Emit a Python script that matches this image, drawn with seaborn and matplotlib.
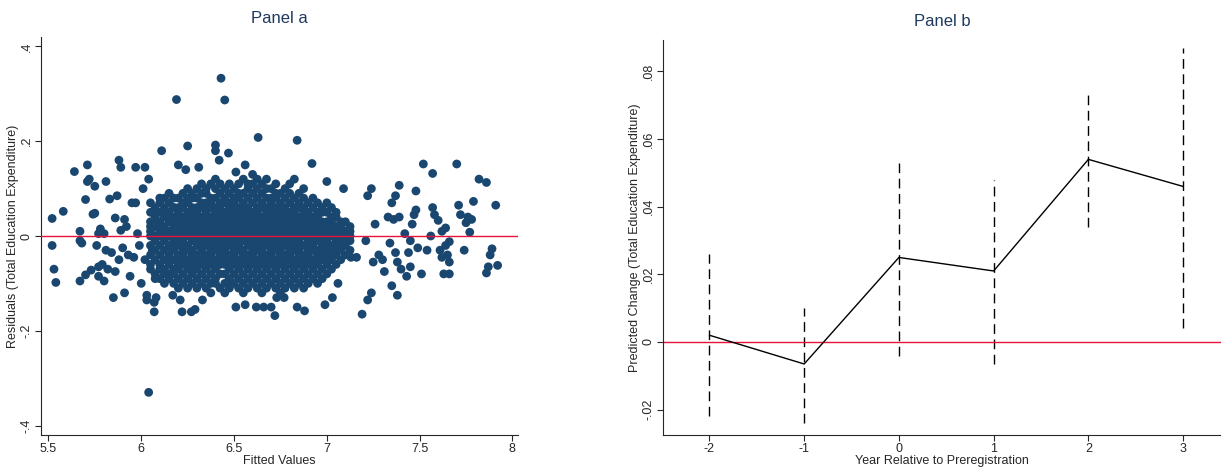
import matplotlib
matplotlib.use("Agg")
import matplotlib.pyplot as plt
import seaborn as sns
import pandas as pd

# ===== PANEL A DATA: residuals vs fitted values =====
# sparse points (fitted, residual)
sparse_x = [5.52, 5.52, 5.53, 5.54, 5.58, 5.64, 5.67, 5.67, 5.67, 5.68, 5.70, 5.70, 5.71, 5.71, 5.72, 5.73,
            5.74, 5.75, 5.75, 5.76, 5.77, 5.77, 5.77, 5.78, 5.79, 5.80, 5.80, 5.81, 5.81, 5.82, 5.83, 5.84,
            5.85, 5.86, 5.86, 5.87, 5.88, 5.88, 5.89, 5.89, 5.90, 5.91, 5.91, 5.92, 5.93, 5.94, 5.95, 5.96,
            5.97, 5.97, 5.98, 5.99, 6.00, 6.01, 6.02, 6.02, 6.03, 6.03, 6.04, 6.04, 6.06, 6.07, 6.07, 6.08,
            6.11, 6.17, 6.19, 6.20, 6.21, 6.22, 6.24, 6.25, 6.27, 6.29, 6.31, 6.33, 6.40, 6.40, 6.42, 6.43,
            6.45, 6.47, 6.49, 6.51, 6.51, 6.56, 6.56, 6.62, 6.63, 6.66, 6.70, 6.72, 6.73, 6.77, 6.84, 6.84,
            6.88, 6.92, 6.99, 7.00, 7.03, 7.06, 7.09, 7.13, 7.16, 7.19, 7.21, 7.22, 7.22, 7.24, 7.24, 7.25,
            7.26, 7.28, 7.30, 7.31, 7.33, 7.34, 7.35, 7.35, 7.36, 7.37, 7.37, 7.38, 7.38, 7.39, 7.39, 7.40,
            7.42, 7.43, 7.44, 7.45, 7.45, 7.46, 7.47, 7.48, 7.48, 7.49, 7.51, 7.52, 7.54, 7.56, 7.57, 7.57,
            7.58, 7.60, 7.61, 7.62, 7.62, 7.63, 7.64, 7.64, 7.65, 7.66, 7.66, 7.66, 7.70, 7.71, 7.72, 7.74,
            7.75, 7.76, 7.77, 7.78, 7.79, 7.82, 7.86, 7.86, 7.87, 7.88, 7.89, 7.91, 7.92]
sparse_y = [0.037, -0.02, -0.07, -0.098, 0.052, 0.136, -0.095, 0.01, -0.01, -0.015, 0.077, -0.082, 0.15, 0.115, 0.12, -0.072,
            0.046, 0.048, 0.105, -0.02, 0.005, -0.065, -0.085, 0.015, -0.06, -0.095, 0.005, 0.115, -0.03, -0.07, 0.078, -0.035,
            -0.13, 0.038, -0.075, 0.085, 0.16, -0.05, 0.012, 0.145, -0.025, 0.035, -0.12, 0.02, -0.04, -0.085, 0.07, -0.045,
            0.145, 0.07, 0.005, -0.02, -0.1, 0.1, 0.145, -0.05, -0.125, -0.135, -0.33, 0.12, -0.03, -0.16, -0.14, -0.13,
            0.18, -0.125, 0.288, 0.15, -0.135, -0.16, 0.14, 0.19, -0.16, -0.155, 0.145, -0.135, 0.192, 0.18, 0.16, 0.333,
            0.287, 0.175, -0.1, -0.15, 0.135, -0.145, 0.15, -0.15, 0.208, -0.15, -0.15, -0.168, -0.13, -0.13, 0.202, -0.15,
            -0.158, 0.153, -0.145, 0.115, -0.13, -0.1, 0.1, -0.045, -0.045, -0.165, -0.01, 0.085, -0.135, 0.1, -0.12, -0.055,
            0.025, -0.04, -0.05, -0.075, 0.04, -0.015, 0.07, -0.105, 0.035, 0.085, -0.035, -0.055, -0.125, 0.107, 0.04, -0.07,
            0.005, -0.085, -0.035, -0.01, -0.065, 0.025, 0.045, 0.095, 0.055, -0.025, -0.08, 0.152, -0.03, 0.0, 0.132, 0.06,
            0.045, 0.033, -0.03, 0.01, -0.045, -0.08, 0.017, -0.02, -0.04, -0.012, -0.055, -0.08, 0.152, 0.065, 0.045, -0.03,
            0.028, 0.04, 0.008, 0.035, 0.073, 0.12, 0.113, -0.078, -0.065, -0.04, -0.027, 0.065, -0.062]

# dense core, by column: fitted value -> residuals (in hundredths)
core_cols = [
    (6.050, [-7, -4, -2, 1, 3, 5, 7, -6, 0, 2]),
    (6.075, [-8, -5, -3, -1, 2, 4, 6, -9, 0, 3, 5]),
    (6.100, [-9, -6, -4, -2, 0, 1, 3, 5, 7, -7, 8, 2]),
    (6.125, [-10, -7, -5, -3, -1, 1, 2, 4, 6, 8, -8, 0, 5]),
    (6.150, [-9, -8, -6, -4, -2, 0, 1, 3, 5, 7, 9, -3, 4, -5]),
    (6.175, [-10, -7, -5, -3, -1, 0, 2, 4, 6, 8, -8, 3, -2, 6, 1]),
    (6.200, [-11, -9, -7, -5, -4, -2, 0, 1, 3, 5, 6, 8, -6, 2, -1, 4]),
    (6.225, [-10, -8, -6, -4, -3, -1, 1, 2, 4, 6, 7, 9, -5, 0, 3, -2]),
    (6.250, [-11, -9, -7, -5, -3, -2, 0, 1, 3, 5, 7, 8, 10, -6, 2, 4]),
    (6.275, [-10, -8, -6, -5, -3, -1, 0, 2, 4, 6, 8, 9, -4, 1, 3, -7, 5]),
    (6.300, [-11, -9, -7, -5, -4, -2, 0, 1, 3, 5, 6, 8, 10, -6, 2, -1, 4]),
    (6.325, [-10, -8, -6, -4, -3, -1, 1, 2, 4, 6, 7, 9, 11, -5, 0, 3, -2]),
    (6.350, [-11, -9, -7, -6, -4, -2, -1, 0, 2, 3, 5, 7, 9, 10, -5, 1, 4, 6]),
    (6.375, [-12, -10, -8, -6, -4, -3, -1, 1, 2, 4, 6, 7, 8, 11, -5, 0, 3, -2]),
    (6.400, [-10, -9, -7, -5, -3, -2, 0, 1, 3, 5, 6, 8, 10, 12, -6, 2, 4, -1]),
    (6.425, [-11, -8, -6, -4, -3, -1, 0, 2, 4, 5, 7, 9, 11, -5, 1, 3, -2, 6]),
    (6.450, [-12, -10, -8, -6, -5, -3, -1, 0, 2, 3, 5, 7, 8, 10, -4, 1, 4, -2]),
    (6.475, [-11, -9, -7, -5, -4, -2, -1, 1, 2, 4, 6, 7, 9, 11, -6, 0, 3, 5]),
    (6.500, [-10, -8, -6, -4, -3, -1, 0, 2, 3, 5, 6, 8, 10, -5, 1, 4, -2, 7]),
    (6.525, [-11, -9, -7, -5, -3, -2, 0, 1, 3, 4, 6, 8, 9, 11, -6, 2, -1, 5]),
    (6.550, [-12, -10, -8, -6, -4, -3, -1, 1, 2, 4, 5, 7, 9, 12, -5, 0, 3, 6]),
    (6.575, [-11, -9, -7, -5, -4, -2, 0, 1, 3, 5, 6, 8, 10, 11, -6, 2, -1, 4]),
    (6.600, [-10, -8, -6, -4, -3, -1, 0, 2, 4, 5, 7, 9, 11, 13, -5, 1, 3, -2]),
    (6.625, [-11, -9, -7, -5, -3, -2, 0, 1, 3, 4, 6, 8, 10, 12, -6, 2, -1, 5]),
    (6.650, [-12, -10, -8, -6, -4, -3, -1, 1, 2, 4, 6, 7, 9, 11, -5, 0, 3, -2]),
    (6.675, [-11, -9, -7, -5, -4, -2, 0, 1, 3, 5, 6, 8, 10, 12, -6, 2, 4, -1]),
    (6.700, [-10, -8, -6, -4, -3, -1, 0, 2, 3, 5, 7, 8, 10, -5, 1, 4, -2, 6]),
    (6.725, [-11, -9, -7, -5, -3, -2, 0, 1, 3, 4, 6, 8, 9, 11, -6, 2, -1, 5]),
    (6.750, [-12, -10, -8, -6, -4, -3, -1, 1, 2, 4, 5, 7, 9, -5, 0, 3, 6, -2]),
    (6.775, [-11, -9, -7, -5, -4, -2, 0, 1, 3, 5, 6, 8, 10, -6, 2, -1, 4]),
    (6.800, [-10, -8, -6, -4, -3, -1, 0, 2, 3, 5, 7, 9, 11, -5, 1, 4, -2]),
    (6.825, [-11, -9, -7, -5, -3, -2, 0, 1, 3, 4, 6, 8, 12, -6, 2, -1, 5]),
    (6.850, [-10, -8, -6, -4, -3, -1, 1, 2, 4, 6, 7, 9, -5, 0, 3, -2]),
    (6.875, [-11, -9, -7, -5, -4, -2, 0, 1, 3, 5, 6, 8, 10, -6, 2, 4]),
    (6.900, [-10, -8, -6, -4, -3, -1, 0, 2, 3, 5, 7, -5, 1, 4, -2]),
    (6.925, [-9, -7, -5, -3, -2, 0, 1, 3, 4, 6, 8, -6, 2, -1]),
    (6.950, [-10, -8, -6, -4, -3, -1, 1, 2, 4, 5, 7, -5, 0, 3]),
    (6.975, [-9, -7, -5, -3, -2, 0, 1, 3, 5, 6, -4, 2, -1]),
    (7.000, [-8, -6, -4, -3, -1, 0, 2, 3, 5, 7, -5, 1, -2]),
    (7.025, [-7, -5, -3, -2, 0, 1, 3, 4, 6, -4, 2]),
    (7.050, [-6, -4, -2, -1, 1, 2, 4, 5, -3, 0]),
    (7.075, [-5, -3, -1, 0, 1, 3, -2, 2]),
    (7.100, [-4, -2, 0, 1, 3, -1]),
    (7.125, [-3, -1, 1, 2, 0]),
]

# ===== PANEL B DATA: event-study estimates =====
years = [-2, -1, 0, 1, 2, 3]
est = [0.002, -0.0065, 0.025, 0.021, 0.054, 0.046]
ci_lo = [-0.022, -0.024, -0.004, -0.0065, 0.034, 0.004]
ci_hi = [0.026, 0.010, 0.053, 0.048, 0.073, 0.087]

# build scatter table
rows = [(x, y) for x, y in zip(sparse_x, sparse_y)]
for cx, ys in core_cols:
    rows += [(cx, v / 100) for v in ys]
df_a = pd.DataFrame(rows, columns=["fitted", "resid"])
df_b = pd.DataFrame({"year": years, "est": est})

sns.set_style("ticks")
plt.rcParams["font.family"] = ["Liberation Sans", "DejaVu Sans"]

NAVY = "#1a476f"
RED = "#e8123a"

fig = plt.figure(figsize=(12.21, 4.68), dpi=100)
ax1 = fig.add_axes([41 / 1221, 33 / 468, 477 / 1221, 398 / 468])
ax2 = fig.add_axes([663 / 1221, 33 / 468, 558 / 1221, 395 / 468])

# --- panel a ---
sns.scatterplot(data=df_a, x="fitted", y="resid", ax=ax1, color=NAVY, s=40,
                edgecolor="none", linewidth=0, zorder=2)
ax1.axhline(0, color=RED, lw=1, zorder=3)
ax1.set_xlim(5.46, 8.03)
ax1.set_ylim(-0.42, 0.42)
ax1.set_xticks([5.5, 6, 6.5, 7, 7.5, 8])
ax1.set_xticklabels(["5.5", "6", "6.5", "7", "7.5", "8"])
ax1.set_yticks([-0.4, -0.2, 0, 0.2, 0.4])
ax1.set_yticklabels(["-.4", "-.2", "0", ".2", ".4"], rotation=90, va="center")
ax1.set_xlabel("Fitted Values", fontsize=9, labelpad=0)
ax1.set_ylabel("Residuals (Total Education Expenditure)", fontsize=9, labelpad=1)
ax1.set_title("Panel a", fontsize=12, color="#1e3a5f", pad=10)

# --- panel b ---
ax2.vlines(years, ci_lo, ci_hi, colors="black", linestyles=(0, (7, 4)), lw=1)
sns.lineplot(data=df_b, x="year", y="est", ax=ax2, color="black", lw=1, zorder=3)
ax2.axhline(0, color=RED, lw=1, zorder=2)
ax2.set_xlim(-2.49, 3.4)
ax2.set_ylim(-0.0275, 0.0893)
ax2.set_xticks(years)
ax2.set_xticklabels(["-2", "-1", "0", "1", "2", "3"])
ax2.set_yticks([-0.02, 0, 0.02, 0.04, 0.06, 0.08])
ax2.set_yticklabels(["-.02", "0", ".02", ".04", ".06", ".08"], rotation=90, va="center")
ax2.set_xlabel("Year Relative to Preregistration", fontsize=9, labelpad=0)
ax2.set_ylabel("Predicted Change (Total Education Expenditure)", fontsize=9, labelpad=1)
ax2.set_title("Panel b", fontsize=12, color="#1e3a5f", pad=10)

for ax in (ax1, ax2):
    sns.despine(ax=ax)
    ax.tick_params(labelsize=9, length=4, width=0.8, pad=2)
    ax.spines["left"].set_linewidth(0.8)
    ax.spines["bottom"].set_linewidth(0.8)

fig.savefig("out.png", dpi=100)
